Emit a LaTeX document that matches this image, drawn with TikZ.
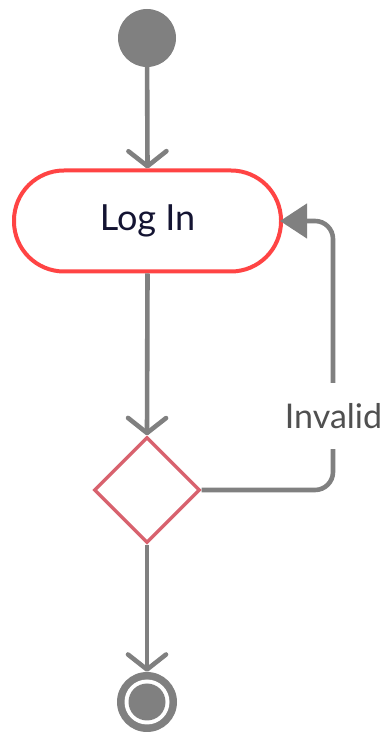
\documentclass[tikz,border=0pt]{standalone}
\usepackage{fontspec}
\setmainfont{Lato}
\usetikzlibrary{arrows.meta,shapes.geometric}
\definecolor{flowgray}{RGB}{128,128,128}
\definecolor{loginred}{RGB}{255,68,68}
\definecolor{decisionred}{RGB}{216,98,110}
\definecolor{navytext}{RGB}{20,20,50}
\definecolor{labelgray}{RGB}{80,80,80}
\tikzset{
  flow/.style={draw=flowgray, line width=4.6pt,
    -{Straight Barb[length=15pt,width=38pt,round]}},
  backflow/.style={draw=flowgray, line width=4.6pt, rounded corners=18pt,
    -{Triangle[length=27pt,width=34pt]}},
  startdot/.style={circle, fill=flowgray, minimum size=58pt, inner sep=0pt},
  actionbox/.style={draw=loginred, line width=4pt, fill=white,
    rounded corners=50pt, minimum width=267pt, minimum height=101pt,
    text=navytext, font=\fontsize{36}{40}\selectfont},
  decision/.style={diamond, draw=decisionred, line width=3.4pt, fill=white,
    minimum width=106pt, minimum height=106pt, inner sep=0pt, aspect=1},
  enddot/.style={circle, minimum size=60pt, inner sep=0pt},
  guard/.style={fill=white, text=labelgray, inner xsep=2pt, inner ysep=20pt,
    font=\fontsize{34}{38}\selectfont}
}
\begin{document}
\begin{tikzpicture}[x=1pt,y=1pt]
  \useasboundingbox (0,0) rectangle (387,734);

  % nodes
  \node[startdot] (start) at (147,696) {};
  \node[actionbox] (login) at (147.5,513) {Log In};
  \node[decision] (check) at (147,244) {};
  \node[enddot] (finish) at (147,32) {};
  \fill[flowgray] (finish.center) circle (30pt);
  \fill[white] (finish.center) circle (22.5pt);
  \fill[flowgray] (finish.center) circle (18.5pt);

  % main flow
  \draw[flow] (start) -- (login.north);
  \draw[flow] (login.south) -- (check.north);
  \draw[flow] (check.south) -- (finish.north);

  % retry loop
  \coordinate (loopbottom) at (333,244);
  \coordinate (looptop) at (333,513);
  \draw[backflow] (check.east) -- (loopbottom) -- (looptop) -- ([xshift=-3pt]login.east);
  \node[guard] (invalid) at (333.5,318) {Invalid};
\end{tikzpicture}
\end{document}
